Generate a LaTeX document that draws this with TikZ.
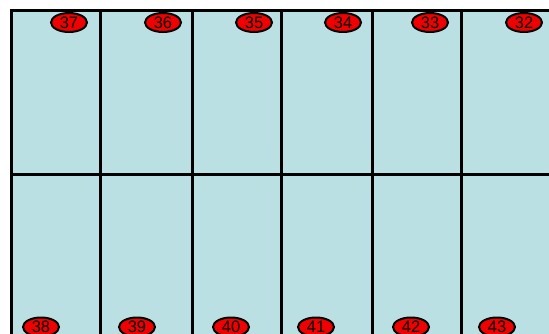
\documentclass[tikz,border=0pt]{standalone}
\usepackage{fontspec}
\setmainfont{Liberation Sans}
\usepackage{tikz}
\usetikzlibrary{shapes.geometric}
\definecolor{cellfill}{RGB}{187,224,227}
\definecolor{pinred}{RGB}{240,0,0}
\tikzset{
  pin/.style={ellipse,draw=black,fill=pinred,line width=2pt,
    minimum width=36pt,minimum height=19pt,inner sep=0pt,
    font=\fontsize{16.5}{16.5}\selectfont},
  gridline/.style={line width=3pt,line cap=rect}
}

\begin{document}
\begin{tikzpicture}[x=1pt,y=-1pt]
  \useasboundingbox (0,0) rectangle (549,334);
  \begin{scope}
    \clip (0,0) rectangle (549,334);
    % cells
    \fill[cellfill] (11,11) rectangle (560,345);
    % outer border (top and left)
    \draw[gridline] (560,11) -- (11,11) -- (11,345);
    % column dividers
    \foreach \x in {100,192,281,372,461} {\draw[gridline] (\x,11) -- (\x,345);}
    % row divider
    \draw[gridline] (11,175) -- (560,175);
    % top row pins
    \foreach \x/\n in {69/37,163/36,254/35,343/34,430/33,524/32}
      {\node[pin] (p\n) at (\x,22.5) {\n};}
    % bottom row pins
    \foreach \x/\n in {41/38,137/39,231/40,316/41,411/42,497/43}
      {\node[pin] (p\n) at (\x,327) {\n};}
  \end{scope}
\end{tikzpicture}
\end{document}
